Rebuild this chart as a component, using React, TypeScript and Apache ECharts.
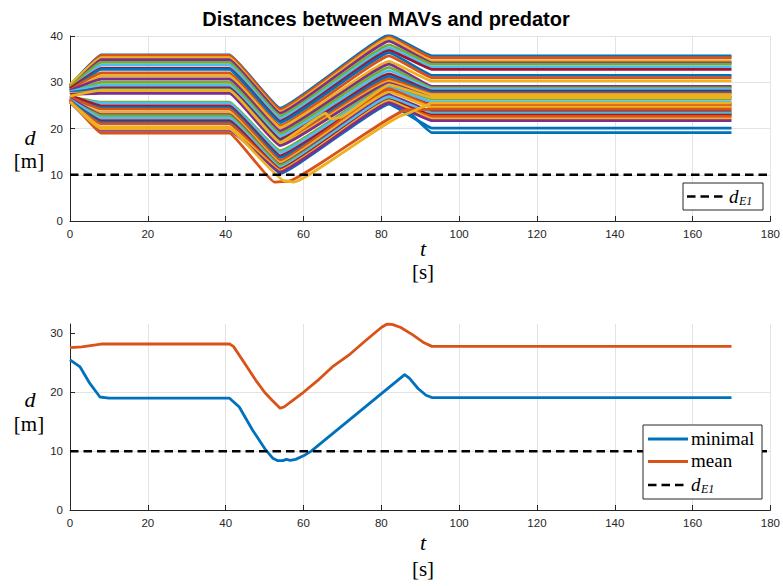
import React, { useEffect, useRef } from "react";
import * as echarts from "echarts";

// MATLAB default colour order
const lineColors = ["#0072BD", "#D95319", "#EDB120", "#7E2F8E", "#77AC30", "#4DBEEE", "#A2142F"];

// Key instants of the manoeuvre [s]: start, cruise reached, attack starts, closest pass, peak, settle, end
const keyTimes = [0, 8, 41, 54, 82, 93, 170];

// Per-agent distance to the predator [m] at the key instants
const startDist = [29.3, 29.0, 29.5, 28.7, 28.9, 28.4, 28.6, 28.1, 28.3, 27.9, 28.2, 27.7, 28.0, 27.5, 27.8, 27.3, 27.6, 27.4, 26.9, 26.6, 27.1, 26.4, 26.8, 26.2, 26.5, 26.0, 26.3, 25.8, 26.1, 25.6, 25.9, 25.7];
const cruiseDist = [35.9, 35.8, 35.3, 34.9, 34.3, 33.7, 33.0, 32.8, 32.0, 31.4, 30.7, 30.0, 29.3, 28.8, 28.5, 28.3, 27.8, 27.6, 25.7, 25.5, 24.9, 24.5, 24.2, 23.5, 23.0, 22.8, 22.3, 21.7, 21.3, 21.0, 20.3, 19.6];
const dipDist = [24.4, 24.1, 23.6, 23.3, 22.7, 22.2, 21.6, 21.3, 20.6, 20.2, 19.5, 18.9, 18.4, 17.7, 17.3, 17.0, 16.6, 16.3, 15.2, 14.8, 14.1, 13.7, 13.1, 12.6, 12.2, 12.0, 11.6, 11.2, 10.3, 11.0, 10.8, 10.6];
const peakDist = [40.2, 39.8, 39.5, 38.9, 38.1, 37.5, 36.9, 36.4, 35.7, 34.5, 33.9, 33.2, 32.5, 31.8, 31.3, 30.7, 30.2, 29.8, 29.3, 28.9, 28.2, 27.5, 28.6, 27.9, 27.2, 26.6, 26.9, 26.2, 25.3, 25.8, 26.0, 25.6];
const finalDist = [35.7, 35.3, 34.6, 34.2, 33.9, 33.3, 32.8, 31.5, 31.0, 30.3, 29.1, 28.8, 28.5, 28.1, 27.8, 27.5, 27.3, 26.7, 26.4, 25.8, 25.2, 19.1, 24.9, 24.6, 23.7, 23.4, 23.2, 22.9, 20.1, 22.6, 22.1, 21.7];

// Agents with an irregular path: [t, d]
const lateAgentA = [[0, 27.0], [8, 28.3], [41, 28.3], [54, 17.0], [65.7, 23.3], [67, 22.1], [69.5, 22.4], [82, 29.5], [93, 26.7], [170, 26.7]];
const closeAgentB = [[0, 26.2], [8, 19.0], [41, 19.0], [52.5, 8.4], [56, 8.6], [86.5, 24.0], [93, 24.2], [170, 24.2]];
const closeAgentC = [[0, 25.8], [8, 19.9], [41, 19.9], [55, 8.7], [57.5, 8.4], [86, 23.0], [93, 25.5], [170, 25.5]];

// Safety distance d_E1
const thresholdT = [0, 180];
const thresholdD = [10, 10];

// Statistics over the swarm
const minimalT = [0, 2.6, 5.1, 7.7, 10, 41, 43.5, 46.9, 50.3, 52.1, 53.3, 54.7, 55.6, 56.6, 58, 60, 62, 86, 87.2, 89.5, 91.5, 93, 170];
const minimalD = [25.5, 24.3, 21.5, 19.2, 19.0, 19.0, 17.5, 13.6, 10.2, 8.8, 8.4, 8.4, 8.6, 8.45, 8.6, 9.2, 10.0, 23.0, 22.4, 20.6, 19.5, 19.1, 19.1];
const meanT = [0, 3, 8, 41, 42, 45, 48, 50, 52, 54, 55, 57, 60, 64, 67.4, 72, 76, 80, 81.5, 83, 85, 88, 91, 93, 170];
const meanD = [27.6, 27.7, 28.2, 28.2, 27.8, 24.8, 21.8, 20.0, 18.6, 17.3, 17.5, 18.5, 20.0, 22.2, 24.3, 26.5, 28.8, 31.0, 31.6, 31.5, 31.0, 29.8, 28.4, 27.8, 27.8];

const TICK_FONT = "'Liberation Sans', Arial, Helvetica, sans-serif";
const SERIF = "'Liberation Serif', 'Times New Roman', serif";
const AXIS_COLOR = "#262626";
const GRID_COLOR = "#e3e3e3";
const LINE_W = 2.8;
const SMOOTH = 0.1;

function xAxisCfg(gridIndex: number) {
  return {
    type: "value",
    gridIndex,
    min: 0,
    max: 180,
    interval: 20,
    axisLine: { show: true, onZero: false, lineStyle: { color: AXIS_COLOR, width: 1 } },
    axisTick: { show: true, inside: true, length: 5, lineStyle: { color: AXIS_COLOR } },
    axisLabel: { color: AXIS_COLOR, fontSize: 11.5, fontFamily: TICK_FONT, margin: 7 },
    splitLine: { show: true, lineStyle: { color: GRID_COLOR, width: 1 } },
  };
}

function yAxisCfg(gridIndex: number, max: number) {
  return {
    type: "value",
    gridIndex,
    min: 0,
    max,
    interval: 10,
    axisLine: { show: true, onZero: false, lineStyle: { color: AXIS_COLOR, width: 1 } },
    axisTick: { show: true, inside: true, length: 5, lineStyle: { color: AXIS_COLOR }, customValues: [0, 10, 20, 30, 40].filter((v) => v <= max) },
    axisLabel: { color: AXIS_COLOR, fontSize: 11.5, fontFamily: TICK_FONT, margin: 7, showMaxLabel: max % 10 === 0 },
    splitLine: { show: true, showMaxLine: max % 10 === 0, lineStyle: { color: GRID_COLOR, width: 1 } },
  };
}

function buildOption() {
  const series: any[] = [];
  startDist.forEach((s, i) => {
    const vals = [s, cruiseDist[i], cruiseDist[i], dipDist[i], peakDist[i], finalDist[i], finalDist[i]];
    series.push({
      type: "line",
      xAxisIndex: 0,
      yAxisIndex: 0,
      symbol: "none",
      silent: true,
      smooth: SMOOTH,
      smoothMonotone: "x",
      data: keyTimes.map((t, k) => [t, vals[k]]),
      lineStyle: { width: LINE_W, color: lineColors[i % lineColors.length], join: "round" },
    });
  });
  [lateAgentA, closeAgentB, closeAgentC].forEach((pts, j) => {
    const colorIdx = [2, 1, 2][j];
    series.push({
      type: "line",
      xAxisIndex: 0,
      yAxisIndex: 0,
      symbol: "none",
      silent: true,
      smooth: SMOOTH,
      smoothMonotone: "x",
      data: pts,
      lineStyle: { width: LINE_W, color: lineColors[colorIdx], join: "round" },
    });
  });
  const threshold = thresholdT.map((t, k) => [t, thresholdD[k]]);
  series.push({
    type: "line", xAxisIndex: 0, yAxisIndex: 0, symbol: "none", silent: true, z: 5,
    data: threshold,
    lineStyle: { width: 2.5, color: "#000", type: [8.5, 5] },
  });
  series.push({
    type: "line", xAxisIndex: 1, yAxisIndex: 1, symbol: "none", silent: true, name: "minimal",
    data: minimalT.map((t, k) => [t, minimalD[k]]),
    lineStyle: { width: LINE_W, color: lineColors[0], join: "round" },
  });
  series.push({
    type: "line", xAxisIndex: 1, yAxisIndex: 1, symbol: "none", silent: true, name: "mean",
    data: meanT.map((t, k) => [t, meanD[k]]),
    lineStyle: { width: LINE_W, color: lineColors[1], join: "round" },
  });
  series.push({
    type: "line", xAxisIndex: 1, yAxisIndex: 1, symbol: "none", silent: true, z: 5,
    data: threshold,
    lineStyle: { width: 2.5, color: "#000", type: [8.5, 5] },
  });

  const txt = (x: number, y: number, text: string, font: string, extra: any = {}) => ({
    type: "text",
    x,
    y,
    silent: true,
    z: 100,
    style: { text, font, fill: "#000", align: "center", verticalAlign: "middle", ...extra },
  });

  const graphic: any[] = [
    txt(386, 19, "Distances between MAVs and predator", `bold 20px ${TICK_FONT}`),
    // y labels
    txt(30, 137, "d", `italic 22px ${SERIF}`),
    txt(29, 161, "[m]", `21px ${SERIF}`),
    txt(30, 399, "d", `italic 22px ${SERIF}`),
    txt(29, 424, "[m]", `21px ${SERIF}`),
    // x labels
    txt(423, 248, "t", `italic 22px ${SERIF}`),
    txt(423, 272, "[s]", `21px ${SERIF}`),
    txt(423, 542, "t", `italic 22px ${SERIF}`),
    txt(423, 569, "[s]", `21px ${SERIF}`),
    // top legend
    { type: "rect", z: 90, silent: true, shape: { x: 683, y: 183, width: 80, height: 27 }, style: { fill: "#fff", stroke: AXIS_COLOR, lineWidth: 1 } },
    { type: "line", z: 95, silent: true, shape: { x1: 687, y1: 196.5, x2: 727, y2: 196.5 }, style: { stroke: "#000", lineWidth: 2.5, lineDash: [8.5, 5] } },
    txt(729, 196, "d", `italic 19px ${SERIF}`, { align: "left" }),
    txt(739, 201, "E1", `italic 12px ${SERIF}`, { align: "left" }),
    // bottom legend
    { type: "rect", z: 90, silent: true, shape: { x: 643, y: 425, width: 119, height: 74 }, style: { fill: "#fff", stroke: AXIS_COLOR, lineWidth: 1 } },
    { type: "line", z: 95, silent: true, shape: { x1: 648, y1: 439, x2: 688, y2: 439 }, style: { stroke: lineColors[0], lineWidth: LINE_W } },
    txt(691, 438, "minimal", `19px ${SERIF}`, { align: "left" }),
    { type: "line", z: 95, silent: true, shape: { x1: 648, y1: 461.5, x2: 688, y2: 461.5 }, style: { stroke: lineColors[1], lineWidth: LINE_W } },
    txt(691, 460.5, "mean", `19px ${SERIF}`, { align: "left" }),
    { type: "line", z: 95, silent: true, shape: { x1: 648, y1: 485, x2: 688, y2: 485 }, style: { stroke: "#000", lineWidth: 2.5, lineDash: [8.5, 5] } },
    txt(691, 484, "d", `italic 19px ${SERIF}`, { align: "left" }),
    txt(701, 489, "E1", `italic 12px ${SERIF}`, { align: "left" }),
  ];

  return {
    animation: false,
    backgroundColor: "#fff",
    grid: [
      { left: 70, top: 36, width: 703, height: 185 },
      { left: 70, top: 324, width: 703, height: 186 },
    ],
    xAxis: [xAxisCfg(0), xAxisCfg(1)],
    yAxis: [yAxisCfg(0, 40), yAxisCfg(1, 31.6)],
    series,
    graphic,
  };
}

export default function App() {
  const ref = useRef<HTMLDivElement>(null);
  useEffect(() => {
    if (!ref.current) return;
    const chart = echarts.init(ref.current, undefined, { renderer: "svg" });
    chart.setOption(buildOption() as any);
    return () => chart.dispose();
  }, []);
  return <div ref={ref} style={{ position: "fixed", left: 0, top: 0, width: 783, height: 586, background: "#fff" }} />;
}
